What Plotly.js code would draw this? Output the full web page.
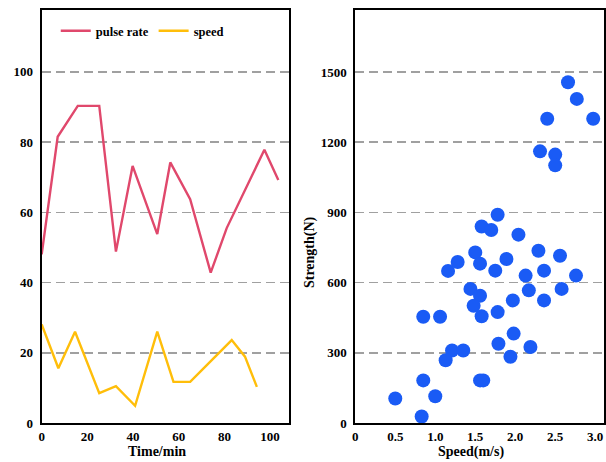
<!DOCTYPE html>
<html><head><meta charset="utf-8">
<script src="https://cdn.plot.ly/plotly-3.0.1.min.js"></script>
<style>html,body{margin:0;padding:0;background:#fff}#c{width:606px;height:462px}</style>
</head><body><div id="c"></div>
<script>
const pulseTime = [0, 7, 15.8, 25.2, 32.5, 39.8, 50.6, 56.3, 65, 74, 81, 97.5, 103.6];
const pulseRate = [48, 81.5, 90.3, 90.3, 48.8, 73.2, 53.8, 74.2, 63.7, 42.8, 55.5, 77.8, 69.2];
const speedTime = [0, 7.3, 14.6, 25.2, 32.5, 40.9, 50.6, 57.7, 65, 83.2, 89, 94.2];
const speedVal = [28.1, 15.6, 26, 8.5, 10.5, 4.9, 26, 11.7, 11.7, 23.6, 18.9, 10.3];
const scatSpeed = [2.66, 2.77, 2.40, 2.975, 2.31, 2.50, 2.50, 1.78, 1.58, 1.70, 2.04, 1.50, 1.56, 1.16, 1.28, 1.75, 1.89, 2.29, 2.56, 2.13, 2.36, 2.76, 1.44, 1.56, 2.17, 2.58, 1.97, 2.36, 1.48, 1.58, 1.78, 0.85, 1.06, 1.98, 1.79, 2.19, 1.94, 1.21, 1.35, 1.13, 0.85, 1.56, 1.60, 0.50, 1.00, 0.83];
const scatStrength = [1456, 1385, 1300, 1300, 1161, 1147, 1101, 890, 840, 825, 805, 729, 681, 650, 688, 651, 701, 736, 715, 630, 651, 630, 573, 544, 567, 573, 524, 524, 501, 456, 474, 454, 454, 382, 339, 325, 283, 310, 310, 268, 182, 182, 182, 105, 114, 28];
const leftYTicks = [0, 20, 40, 60, 80, 100];
const leftXTicks = [0, 20, 40, 60, 80, 100];
const rightYTicks = [0, 300, 600, 900, 1200, 1500];
const rightXTicks = [0, 0.5, 1.0, 1.5, 2.0, 2.5, 3.0];
const rightXLabels = ['0', '0.5', '1.0', '1.5', '2.0', '2.5', '3.0'];
const titles = {leftX: 'Time/min', rightX: 'Speed(m/s)', rightY: 'Strength(N)'};

const F = 'Liberation Serif, Times New Roman, serif';
const tf = {family: F, size: 13, color: '#000', weight: 'bold'};
const ttf = {family: F, size: 14, color: '#000', weight: 'bold'};
const gridc = '#a0a0a0';
function ax(extra) {
  return Object.assign({
    showline: true, mirror: true, linecolor: '#000', linewidth: 2,
    ticks: '', tickfont: tf, zeroline: false,
    showgrid: true, gridcolor: gridc, gridwidth: 1.5, griddash: '9px,5px'
  }, extra);
}
const traces = [
  {x: pulseTime, y: pulseRate, type: 'scatter', mode: 'lines', name: 'pulse rate',
   line: {color: '#E0486C', width: 2.4}, xaxis: 'x', yaxis: 'y'},
  {x: speedTime, y: speedVal, type: 'scatter', mode: 'lines', name: 'speed',
   line: {color: '#FFBE0A', width: 2.4}, xaxis: 'x', yaxis: 'y'},
  {x: scatSpeed, y: scatStrength, type: 'scatter', mode: 'markers', showlegend: false,
   marker: {color: '#1A5BF5', size: 14}, xaxis: 'x2', yaxis: 'y2'}
];
const layout = {
  width: 606, height: 462,
  margin: {l: 0, r: 0, t: 10, b: 39},
  paper_bgcolor: '#fff', plot_bgcolor: '#fff',
  showlegend: true,
  legend: {orientation: 'h', x: 0.092, y: 0.985, xanchor: 'left', yanchor: 'top',
    bgcolor: 'rgba(0,0,0,0)', font: {family: F, size: 12.5, color: '#000', weight: 'bold'},
    itemwidth: 30, tracegroupgap: 0},
  xaxis: ax({domain: [0.0688, 0.477], range: [0, 108.3], tickvals: leftXTicks, showgrid: false, anchor: 'y'}),
  yaxis: ax({range: [0, 117.6], tickvals: leftYTicks, anchor: 'x', ticklabelstandoff: 4}),
  xaxis2: ax({domain: [0.5863, 0.9967], range: [0, 3.11], tickvals: rightXTicks, ticktext: rightXLabels, showgrid: false, anchor: 'y2'}),
  yaxis2: ax({range: [0, 1765], tickvals: rightYTicks, anchor: 'x2', ticklabelstandoff: 4}),
  annotations: [
    {text: titles.leftX, xref: 'paper', yref: 'paper', x: 0.259, y: -0.07, xanchor: 'center', yanchor: 'middle', showarrow: false, font: ttf},
    {text: titles.rightX, xref: 'paper', yref: 'paper', x: 0.777, y: -0.07, xanchor: 'center', yanchor: 'middle', showarrow: false, font: ttf},
    {text: titles.rightY, xref: 'paper', yref: 'paper', x: 0.5116, y: 0.414, xanchor: 'center', yanchor: 'middle', textangle: -90, showarrow: false, font: ttf}
  ]
};
Plotly.newPlot('c', traces, layout, {displayModeBar: false, staticPlot: true});
</script></body></html>
